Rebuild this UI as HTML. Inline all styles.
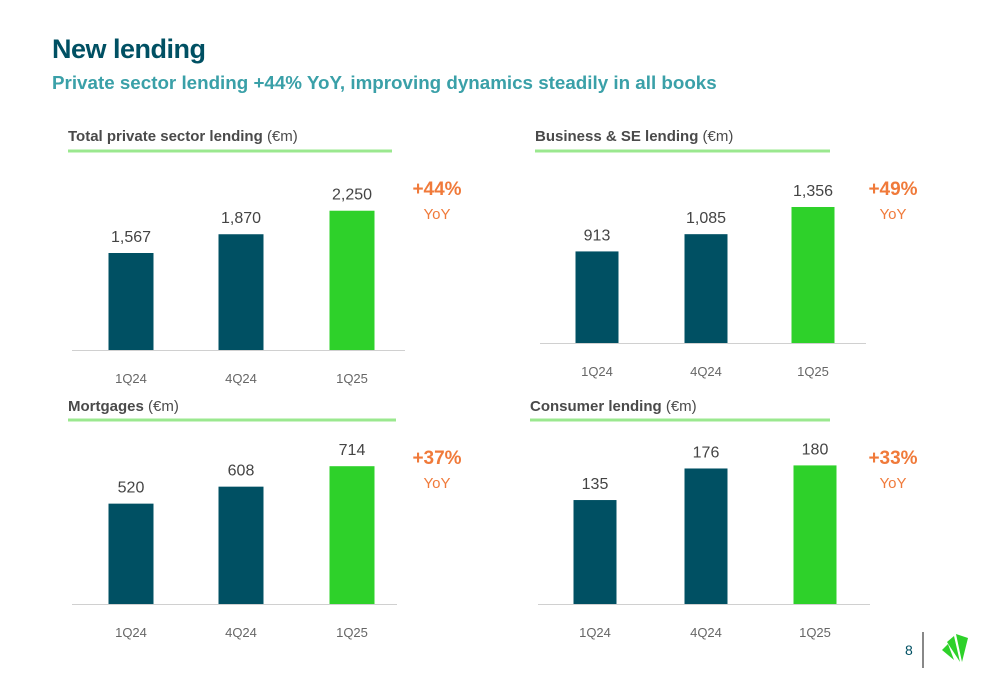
<!DOCTYPE html>
<html><head><meta charset="utf-8"><style>
body{margin:0;width:1000px;height:685px;background:#fff;font-family:"Liberation Sans",sans-serif;position:relative;overflow:hidden}
.t{position:absolute;white-space:nowrap}
</style></head><body>
<div class="t" style="left:52px;top:34px;font-size:27px;font-weight:bold;color:#005063;letter-spacing:-0.5px">New lending</div>
<div class="t" style="left:52px;top:72px;font-size:18.8px;font-weight:bold;color:#3aa0a8">Private sector lending +44% YoY, improving dynamics steadily in all books</div>
<svg id="c" width="1000" height="685" style="position:absolute;left:0;top:0"></svg>
<div class="t" style="left:905px;top:642px;font-size:14px;color:#005063">8</div>
<div style="position:absolute;left:922px;top:632px;width:2px;height:36px;background:#888"></div>
<svg style="position:absolute;left:940px;top:630px" width="34" height="34" viewBox="0 0 34 34">
<polygon points="2,20 8,14 14,30" fill="#2ed12a"/><polygon points="7,12 14,6 20,32" fill="#2ed12a"/><polygon points="16,4 28,8 22,32" fill="#2ed12a"/></svg>
<script>
const categories=["1Q24","4Q24","1Q25"];
const totalValues=[1567,1870,2250];
const businessValues=[913,1085,1356];
const mortgageValues=[520,608,714];
const consumerValues=[135,176,180];
const totalLabels=["1,567","1,870","2,250"];
const businessLabels=["913","1,085","1,356"];
const mortgageLabels=["520","608","714"];
const consumerLabels=["135","176","180"];
const yoyLabels=["+44%","+49%","+37%","+33%"];
const panels=[
 {name:"total",title:"Total private sector lending",vals:totalValues,labs:totalLabels,yoy:yoyLabels[0],tx:68,ty:135,ul:[68,392,151],base:350,ax:[72,405],cx:[131,241,352],bw:45,scale:0.0619,xl:378,yx:437,yy:188},
 {name:"business",title:"Business & SE lending",vals:businessValues,labs:businessLabels,yoy:yoyLabels[1],tx:535,ty:135,ul:[535,830,151],base:343,ax:[540,866],cx:[597,706,813],bw:43,scale:0.1003,xl:371,yx:893,yy:188},
 {name:"mortgages",title:"Mortgages",vals:mortgageValues,labs:mortgageLabels,yoy:yoyLabels[2],tx:68,ty:405,ul:[68,396,420],base:604,ax:[72,397],cx:[131,241,352],bw:45,scale:0.193,xl:632,yx:437,yy:457},
 {name:"consumer",title:"Consumer lending",vals:consumerValues,labs:consumerLabels,yoy:yoyLabels[3],tx:530,ty:405,ul:[530,830,420],base:604,ax:[538,870],cx:[595,706,815],bw:43,scale:0.77,xl:632,yx:893,yy:457}
];
const svg=document.getElementById('c');const NS="http://www.w3.org/2000/svg";
function mk(t,a,txt){const e=document.createElementNS(NS,t);for(const k in a)e.setAttribute(k,a[k]);if(txt!=null)e.textContent=txt;svg.appendChild(e);return e;}
panels.forEach(p=>{
 const y=v=>p.base-v*p.scale;
 let e=mk('text',{x:p.tx,y:p.ty+6,'font-size':15,'font-weight':'bold',fill:'#4a4a4a'});
 
 
 e.innerHTML=p.title.replace('&','&amp;')+' <tspan font-weight="normal">(€m)</tspan>';
 e=mk('line',{x1:p.ul[0],x2:p.ul[1],y1:p.ul[2],y2:p.ul[2],stroke:'#9be88f','stroke-width':3});
 
 
 e=mk('line',{x1:p.ax[0],x2:p.ax[1],y1:p.base+0.5,y2:p.base+0.5,stroke:'#d0d0d0','stroke-width':1});
 
 
 p.vals.forEach((v,i)=>{
  const top=y(v);
  e=mk('rect',{x:p.cx[i]-p.bw/2,y:top,width:p.bw,height:p.base-top,fill:i==2?'#2ed12a':'#005063'});
  
  
  e=mk('text',{x:p.cx[i],y:top-11,'text-anchor':'middle','font-size':16,fill:'#444'},p.labs[i]);
  
  
  e=mk('text',{x:p.cx[i],y:p.xl+5,'text-anchor':'middle','font-size':13,fill:'#666'},categories[i]);
  
  
 });
 e=mk('text',{x:p.yx,y:p.yy+7,'text-anchor':'middle','font-size':19,'font-weight':'bold',fill:'#f07a3a'},p.yoy);
 
 
 e=mk('text',{x:p.yx,y:p.yy+31,'text-anchor':'middle','font-size':15,fill:'#f07a3a'},'YoY');
 
 
});
</script>
</body></html>
